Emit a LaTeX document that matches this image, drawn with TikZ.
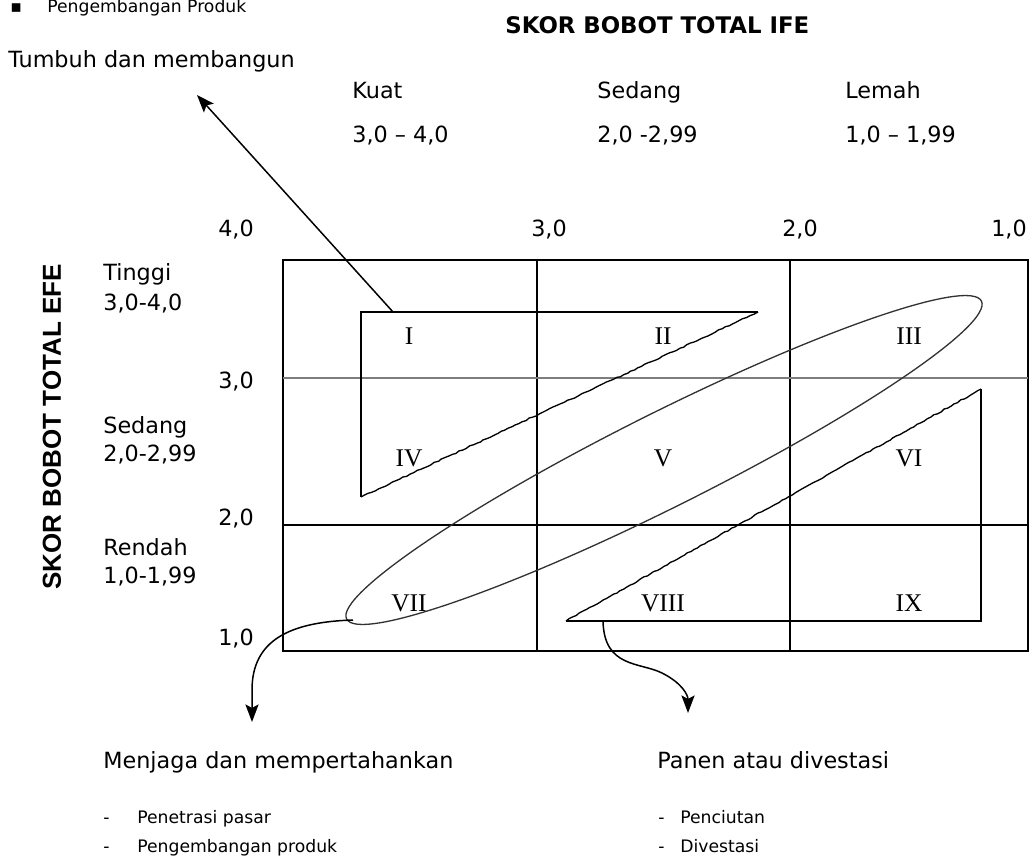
\documentclass[tikz,border=0pt]{standalone}
\usepackage{fontspec}
\setmainfont{DejaVu Sans}
\newfontfamily\romanfont{Liberation Serif}
\newfontfamily\arialfont{Liberation Sans}
\usepackage{tikz}
\usepackage{xcolor}
\usetikzlibrary{arrows.meta, decorations.pathmorphing}
\definecolor{gridgray}{RGB}{125,125,125}
\definecolor{loopgray}{RGB}{50,50,50}

\begin{document}
\begin{tikzpicture}[x=0.02cm, y=-0.02cm,
  lbl/.style={inner sep=0pt, font=\fontsize{12.7}{15}\selectfont},
  note/.style={inner sep=0pt, font=\fontsize{9.8}{12}\selectfont},
  rom/.style={inner sep=0pt, font=\romanfont\fontsize{14.5}{16}\selectfont},
  wob/.style={decorate, decoration={random steps, segment length=2.2pt, amplitude=0.35pt}},
  arr/.style={line width=0.85pt, -{Stealth[length=10pt, width=7.5pt, inset=2pt]}}]
        \pgfmathsetseed{3}
        \useasboundingbox (0,0) rectangle (1030,858);
        \node[note, anchor=base west] (bullet) at (10,13) {▪};
        \node[note, anchor=base west] (prod) at (47,13) {Pengembangan Produk};
        \node[lbl, font=\bfseries\fontsize{13}{15}\selectfont, anchor=base west] (ife) at (505,34) {SKOR BOBOT TOTAL IFE};
        \node[lbl, anchor=base west] (grow) at (8,68) {Tumbuh dan membangun};
        \node[lbl, anchor=base west] (kuat) at (352,99) {Kuat};
        \node[lbl, anchor=base west] (kuatr) at (352,143) {3,0 – 4,0};
        \node[lbl, anchor=base west] (sedang) at (597,99) {Sedang};
        \node[lbl, anchor=base west] (sedangr) at (597,143) {2,0 -2,99};
        \node[lbl, anchor=base west] (lemah) at (845,99) {Lemah};
        \node[lbl, anchor=base west] (lemahr) at (845,143) {1,0 – 1,99};
        \node[lbl, anchor=base] (x4) at (236,236) {4,0};
        \node[lbl, anchor=base] (x3) at (549,236) {3,0};
        \node[lbl, anchor=base] (x2) at (800,236) {2,0};
        \node[lbl, anchor=base] (x1) at (1009,236) {1,0};
        \node[lbl, anchor=base] (y3) at (236,388) {3,0};
        \node[lbl, anchor=base] (y2) at (236,525) {2,0};
        \node[lbl, anchor=base] (y1) at (236,645) {1,0};
        \node[lbl, anchor=base west] (tinggi) at (103,280) {Tinggi};
        \node[lbl, anchor=base west] (tinggir) at (103,310) {3,0-4,0};
        \node[lbl, anchor=base west] (sdg) at (103,433) {Sedang};
        \node[lbl, anchor=base west] (sdgr) at (103,461) {2,0-2,99};
        \node[lbl, anchor=base west] (rendah) at (103,555) {Rendah};
        \node[lbl, anchor=base west] (rendahr) at (103,583) {1,0-1,99};
        \node[rotate=90, inner sep=0pt, font=\arialfont\bfseries\fontsize{14.8}{17}\selectfont] (efe) at (52,427) {SKOR BOBOT TOTAL EFE};
        \draw[line width=1.1pt] (283,260) rectangle (1028,651);
        \draw[line width=1.1pt] (537,260) -- (537,651);
        \draw[line width=1.1pt] (790,260) -- (790,651);
        \draw[line width=1.1pt] (283,525) -- (1028,525);
        \draw[gridgray, line width=0.7pt] (283,378) -- (1028,378);
        \node[rom] (c1) at (409,336) {I};
        \node[rom] (c2) at (663,336) {II};
        \node[rom] (c3) at (909,336) {III};
        \node[rom] (c4) at (409,458) {IV};
        \node[rom] (c5) at (663,458) {V};
        \node[rom] (c6) at (909,458) {VI};
        \node[rom] (c7) at (409,603) {VII};
        \node[rom] (c8) at (663,603) {VIII};
        \node[rom] (c9) at (909,603) {IX};
        \draw[line width=0.75pt] (758,312) -- (361,312) -- (361,497);
        \draw[line width=0.75pt, wob] (361,497) -- (758,312);
        \draw[line width=0.75pt] (566,621) -- (981,621) -- (981,389);
        \draw[line width=0.75pt, wob] (981,389) -- (566,621);
        \draw[loopgray, line width=0.75pt, rotate around={26.6:(664,460)}] (664,460) ellipse [x radius=355, y radius=47];
        \coordinate (t1top) at (393,312);
        \coordinate (growtip) at (197,95);
        \coordinate (loopend) at (353,620);
        \coordinate (keeptip) at (252,722);
        \coordinate (t2base) at (603,621);
        \coordinate (harvtip) at (688,713);
        \draw[arr] (t1top) .. controls (375,292) .. (growtip);
        \draw[arr] (loopend) .. controls (290,622) and (252,640) .. (252,690) -- (keeptip);
        \draw[arr] (t2base) .. controls (604,668) and (640,662) .. (662,673) .. controls (682,683) and (688,695) .. (harvtip);
        \node[lbl, anchor=base west] (keep) at (103,768) {Menjaga dan mempertahankan};
        \node[lbl, anchor=base west] (harv) at (657,768) {Panen atau divestasi};
        \node[note, anchor=base west] (kd1) at (103,823) {-};
        \node[note, anchor=base west] (k1) at (137,823) {Penetrasi pasar};
        \node[note, anchor=base west] (kd2) at (103,852) {-};
        \node[note, anchor=base west] (k2) at (137,852) {Pengembangan produk};
        \node[note, anchor=base west] (hd1) at (658,823) {-};
        \node[note, anchor=base west] (h1) at (680,823) {Penciutan};
        \node[note, anchor=base west] (hd2) at (658,852) {-};
        \node[note, anchor=base west] (h2) at (680,852) {Divestasi};
      \end{tikzpicture}
\end{document}
